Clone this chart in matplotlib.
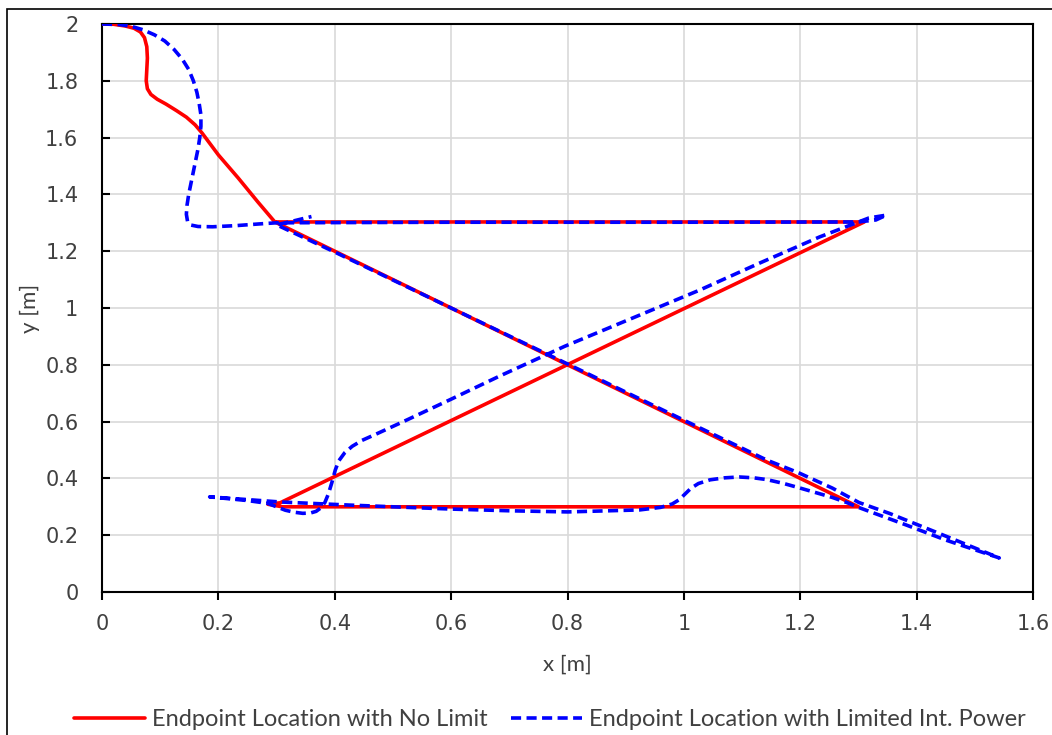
import matplotlib
matplotlib.use('Agg')
import matplotlib.pyplot as plt
from matplotlib.patches import Rectangle

# 无限制时的末端轨迹
x_no_limit = [0.0, 0.02, 0.04, 0.055, 0.066, 0.073, 0.077, 0.078, 0.077, 0.076, 0.078, 0.084,
              0.095, 0.11, 0.128, 0.145, 0.16, 0.172, 0.2, 0.234, 0.268, 0.297,
              1.31, 0.306, 0.285, 0.31, 1.30, 0.297]
y_no_limit = [2.0, 1.999, 1.993, 1.985, 1.972, 1.952, 1.92, 1.88, 1.84, 1.80, 1.772, 1.752,
              1.735, 1.718, 1.695, 1.672, 1.645, 1.616, 1.539, 1.458, 1.373, 1.303,
              1.303, 0.314, 0.309, 0.30, 0.30, 1.303]

# 内部功率受限时的末端轨迹
x_limited = [0.0, 0.03, 0.05, 0.07, 0.09, 0.108, 0.124, 0.138, 0.149, 0.157, 0.163, 0.167,
             0.17, 0.17, 0.168, 0.165, 0.161, 0.157, 0.153, 0.149, 0.146, 0.145, 0.147,
             0.153, 0.165, 0.19, 0.23, 0.27, 0.3, 0.6, 1.0, 1.3, 1.33, 1.348,
             1.318, 1.233, 1.13, 1.027, 0.924, 0.795, 0.683, 0.597, 0.52, 0.47, 0.447,
             0.43, 0.417, 0.407, 0.401, 0.395, 0.389, 0.383, 0.376, 0.368, 0.358, 0.345,
             0.33, 0.315, 0.30, 0.285, 0.25, 0.185,
             0.306, 0.426, 0.5, 0.6, 0.7, 0.8, 0.924, 0.96, 0.98, 0.992, 1.002, 1.012,
             1.025, 1.045, 1.07, 1.095, 1.12, 1.142, 1.17, 1.198, 1.23, 1.255, 1.28, 1.30,
             1.382, 1.45, 1.542,
             1.439, 1.353, 1.301, 1.255, 1.198, 1.142, 1.0, 0.8, 0.6, 0.4, 0.3, 0.33, 0.36]
y_limited = [2.0, 1.998, 1.992, 1.98, 1.962, 1.94, 1.91, 1.876, 1.84, 1.80, 1.76, 1.72,
             1.68, 1.64, 1.60, 1.56, 1.52, 1.48, 1.44, 1.40, 1.36, 1.33, 1.305,
             1.292, 1.287, 1.286, 1.29, 1.296, 1.30, 1.302, 1.302, 1.303, 1.31, 1.327,
             1.317, 1.25, 1.158, 1.063, 0.975, 0.865, 0.76, 0.676, 0.602, 0.555, 0.534,
             0.513, 0.49, 0.462, 0.43, 0.385, 0.345, 0.315, 0.296, 0.284, 0.278, 0.277,
             0.281, 0.288, 0.30, 0.312, 0.322, 0.335,
             0.317, 0.306, 0.30, 0.292, 0.286, 0.282, 0.289, 0.298, 0.31, 0.325, 0.345, 0.365,
             0.382, 0.395, 0.402, 0.405, 0.402, 0.396, 0.383, 0.367, 0.348, 0.333, 0.315, 0.298,
             0.236, 0.183, 0.12,
             0.206, 0.277, 0.315, 0.366, 0.419, 0.465, 0.605, 0.803, 1.0, 1.197, 1.293, 1.307, 1.322]

x_ticks = [0, 0.2, 0.4, 0.6, 0.8, 1, 1.2, 1.4, 1.6]
y_ticks = [0, 0.2, 0.4, 0.6, 0.8, 1, 1.2, 1.4, 1.6, 1.8, 2]

label_font = ['Lato', 'DejaVu Sans']
tick_color = '#404040'

fig = plt.figure(figsize=(10.52, 7.35), dpi=100)
ax = fig.add_axes([102 / 1052, 1 - 592 / 735, (1033 - 102) / 1052, (592 - 24) / 735])

# 图表外框
fig.patches.append(Rectangle((7 / 1052, -0.05), 1.0, 1 - 9 / 735 + 0.05,
                             transform=fig.transFigure, fill=False,
                             edgecolor='#000000', linewidth=1.2))

ax.plot(x_no_limit, y_no_limit, color='#FF0000', linewidth=2.6,
        solid_joinstyle='round', solid_capstyle='round',
        label='Endpoint Location with No Limit', zorder=3)
ax.plot(x_limited, y_limited, color='#0000FF', linewidth=2.6, linestyle=(0, (2.8, 1.5)),
        dash_joinstyle='round', label='Endpoint Location with Limited Int. Power', zorder=4)

ax.set_xlim(0, 1.6)
ax.set_ylim(0, 2)
ax.set_xticks(x_ticks)
ax.set_yticks(y_ticks)
ax.set_xticklabels([f'{t:g}' for t in x_ticks])
ax.set_yticklabels([f'{t:g}' for t in y_ticks])
ax.grid(True, color='#D9D9D9', linewidth=1.2)
ax.set_axisbelow(True)

for s in ax.spines.values():
    s.set_linewidth(1.5)
    s.set_color('#000000')

ax.tick_params(axis='x', direction='out', length=6, width=1.5, pad=10,
               labelsize=15, labelcolor=tick_color)
ax.tick_params(axis='y', direction='in', length=6, width=1.5, pad=17,
               labelsize=15, labelcolor=tick_color)

ax.set_xlabel('x [m]', fontsize=16, color=tick_color, family=label_font, labelpad=15)
ax.set_ylabel('y [m]', fontsize=16, color=tick_color, family=label_font, labelpad=4)

leg = fig.legend(loc='center', bbox_to_anchor=(550 / 1052, 1 - 720 / 735), ncol=2,
                 frameon=False, prop={'family': label_font, 'size': 17},
                 handlelength=3.0, handletextpad=0.3, columnspacing=1.0)
for t in leg.get_texts():
    t.set_color(tick_color)

plt.savefig('out.png', dpi=100)
